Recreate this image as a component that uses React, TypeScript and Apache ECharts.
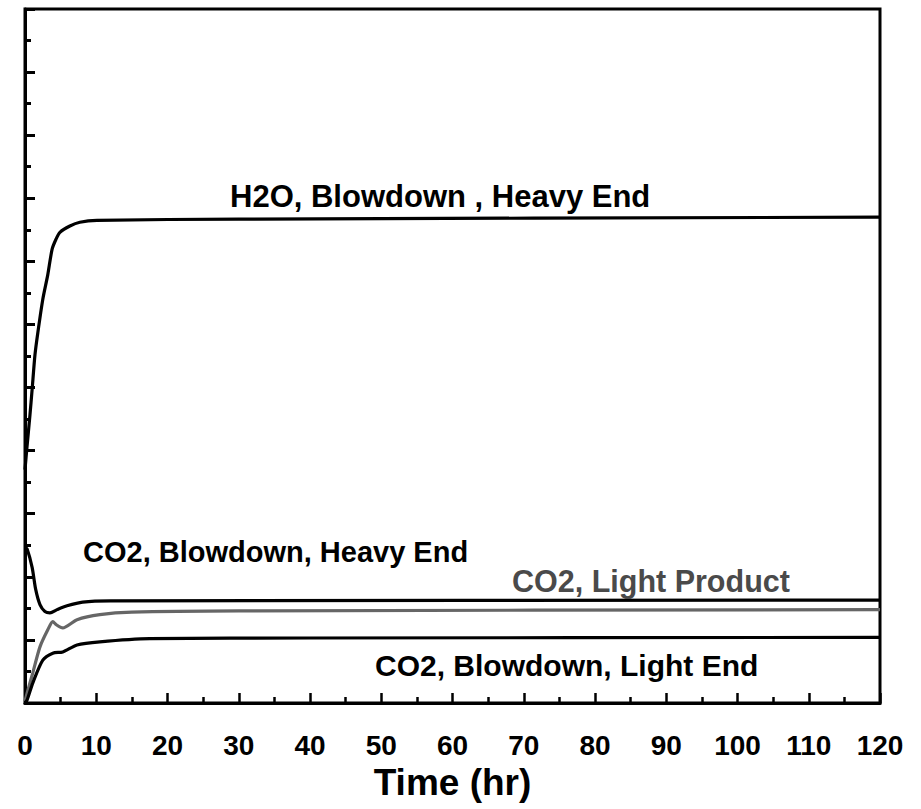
import React, { useEffect, useRef } from "react";
import * as echarts from "echarts";

// Time axis (hr)
const xTicks = [0, 10, 20, 30, 40, 50, 60, 70, 80, 90, 100, 110, 120];

// [time (hr), signal] pairs for each trace
const h2oBlowdownHeavy: [number, number][] = [
  [0, 3.7], [0.28, 4.06], [0.7, 4.57], [1.0, 4.97], [1.4, 5.52], [1.8, 5.87],
  [2.5, 6.4], [3.2, 6.79], [3.8, 7.19], [4.35, 7.35], [4.9, 7.46], [6.3, 7.56],
  [7.7, 7.62], [10.1, 7.65], [30, 7.67], [120, 7.7],
];

const co2BlowdownHeavy: [number, number][] = [
  [0, 2.47], [0.3, 2.44], [1.0, 2.15], [1.5, 1.8], [2.1, 1.56], [2.8, 1.45],
  [3.5, 1.43], [4.5, 1.48], [5.9, 1.54], [8.1, 1.6], [12, 1.62], [120, 1.63],
];

const co2LightProduct: [number, number][] = [
  [0, 0.03], [0.4, 0.2], [1.1, 0.48], [2.1, 0.89], [3.2, 1.16], [3.9, 1.29],
  [4.4, 1.24], [5.3, 1.19], [7.3, 1.32], [10.5, 1.4], [15, 1.44], [30, 1.46],
  [120, 1.48],
];

const co2BlowdownLight: [number, number][] = [
  [0, 0], [0.3, 0.05], [1.1, 0.32], [2.5, 0.68], [3.9, 0.79], [5.3, 0.81],
  [7.3, 0.92], [10.5, 0.97], [17.5, 1.02], [40, 1.03], [120, 1.04],
];

const traceLabels = [
  "H2O, Blowdown , Heavy End",
  "CO2, Blowdown, Heavy End",
  "CO2, Light Product",
  "CO2, Blowdown, Light End",
];

const FONT = "'Liberation Sans', Arial, Helvetica, sans-serif";

export default function App() {
  const ref = useRef<HTMLDivElement>(null);

  useEffect(() => {
    if (!ref.current) return;
    const chart = echarts.init(ref.current, undefined, { renderer: "svg" });

    const lineSeries = (name: string, data: [number, number][], color: string, width: number) => ({
      type: "line" as const,
      name,
      data,
      showSymbol: false,
      smooth: 0.25,
      lineStyle: { color, width },
      z: 3,
    });

    const labelText = (text: string, left: number, y: number, opts: any = {}) => ({
      type: "text",
      left,
      top: y,
      style: {
        text,
        fontFamily: FONT,
        fontSize: opts.size ?? 29,
        fontWeight: opts.weight ?? "bold",
        fill: opts.color ?? "#000",
      },
      z: 10,
    });

    chart.setOption({
      animation: false,
      backgroundColor: "#fff",
      grid: {
        left: 25,
        right: 41,
        top: 9,
        bottom: 106,
        show: true,
        borderColor: "#000",
        borderWidth: 3,
      },
      xAxis: {
        type: "value",
        min: xTicks[0],
        max: xTicks[xTicks.length - 1],
        interval: 10,
        name: "Time (hr)",
        nameLocation: "middle",
        nameGap: 58,
        nameTextStyle: { fontFamily: FONT, fontWeight: "bold", fontSize: 37, color: "#000" },
        axisLine: { lineStyle: { color: "#000", width: 3 } },
        axisTick: { inside: true, length: 10, lineStyle: { color: "#000", width: 2.5 } },
        minorTick: { show: true, splitNumber: 2, length: 6, lineStyle: { color: "#000", width: 2.5 } },
        axisLabel: { fontFamily: FONT, fontWeight: "bold", fontSize: 28, color: "#000", margin: 28 },
        splitLine: { show: false },
      },
      yAxis: {
        type: "value",
        min: 0,
        max: 11,
        interval: 1,
        axisLine: { show: true, lineStyle: { color: "#000", width: 3 } },
        axisTick: { inside: true, length: 10, lineStyle: { color: "#000", width: 3 } },
        minorTick: { show: true, splitNumber: 2, length: 6, lineStyle: { color: "#000", width: 3 } },
        axisLabel: { show: false },
        splitLine: { show: false },
      },
      series: [
        lineSeries(traceLabels[0], h2oBlowdownHeavy, "#000", 3.2),
        lineSeries(traceLabels[1], co2BlowdownHeavy, "#000", 3.2),
        lineSeries(traceLabels[2], co2LightProduct, "#666", 3.2),
        lineSeries(traceLabels[3], co2BlowdownLight, "#000", 3.2),
      ],
      graphic: [
        labelText(traceLabels[0], 230, 181, { size: 31 }),
        labelText(traceLabels[1], 83, 537),
        labelText(traceLabels[2], 512, 565, { color: "#4a4a4a", size: 30.5 }),
        labelText(traceLabels[3], 375, 650, { size: 30 }),
      ],
    });

    return () => chart.dispose();
  }, []);

  return (
    <div
      ref={ref}
      style={{ position: "fixed", left: 0, top: 0, width: 921, height: 809, background: "#fff" }}
    />
  );
}
